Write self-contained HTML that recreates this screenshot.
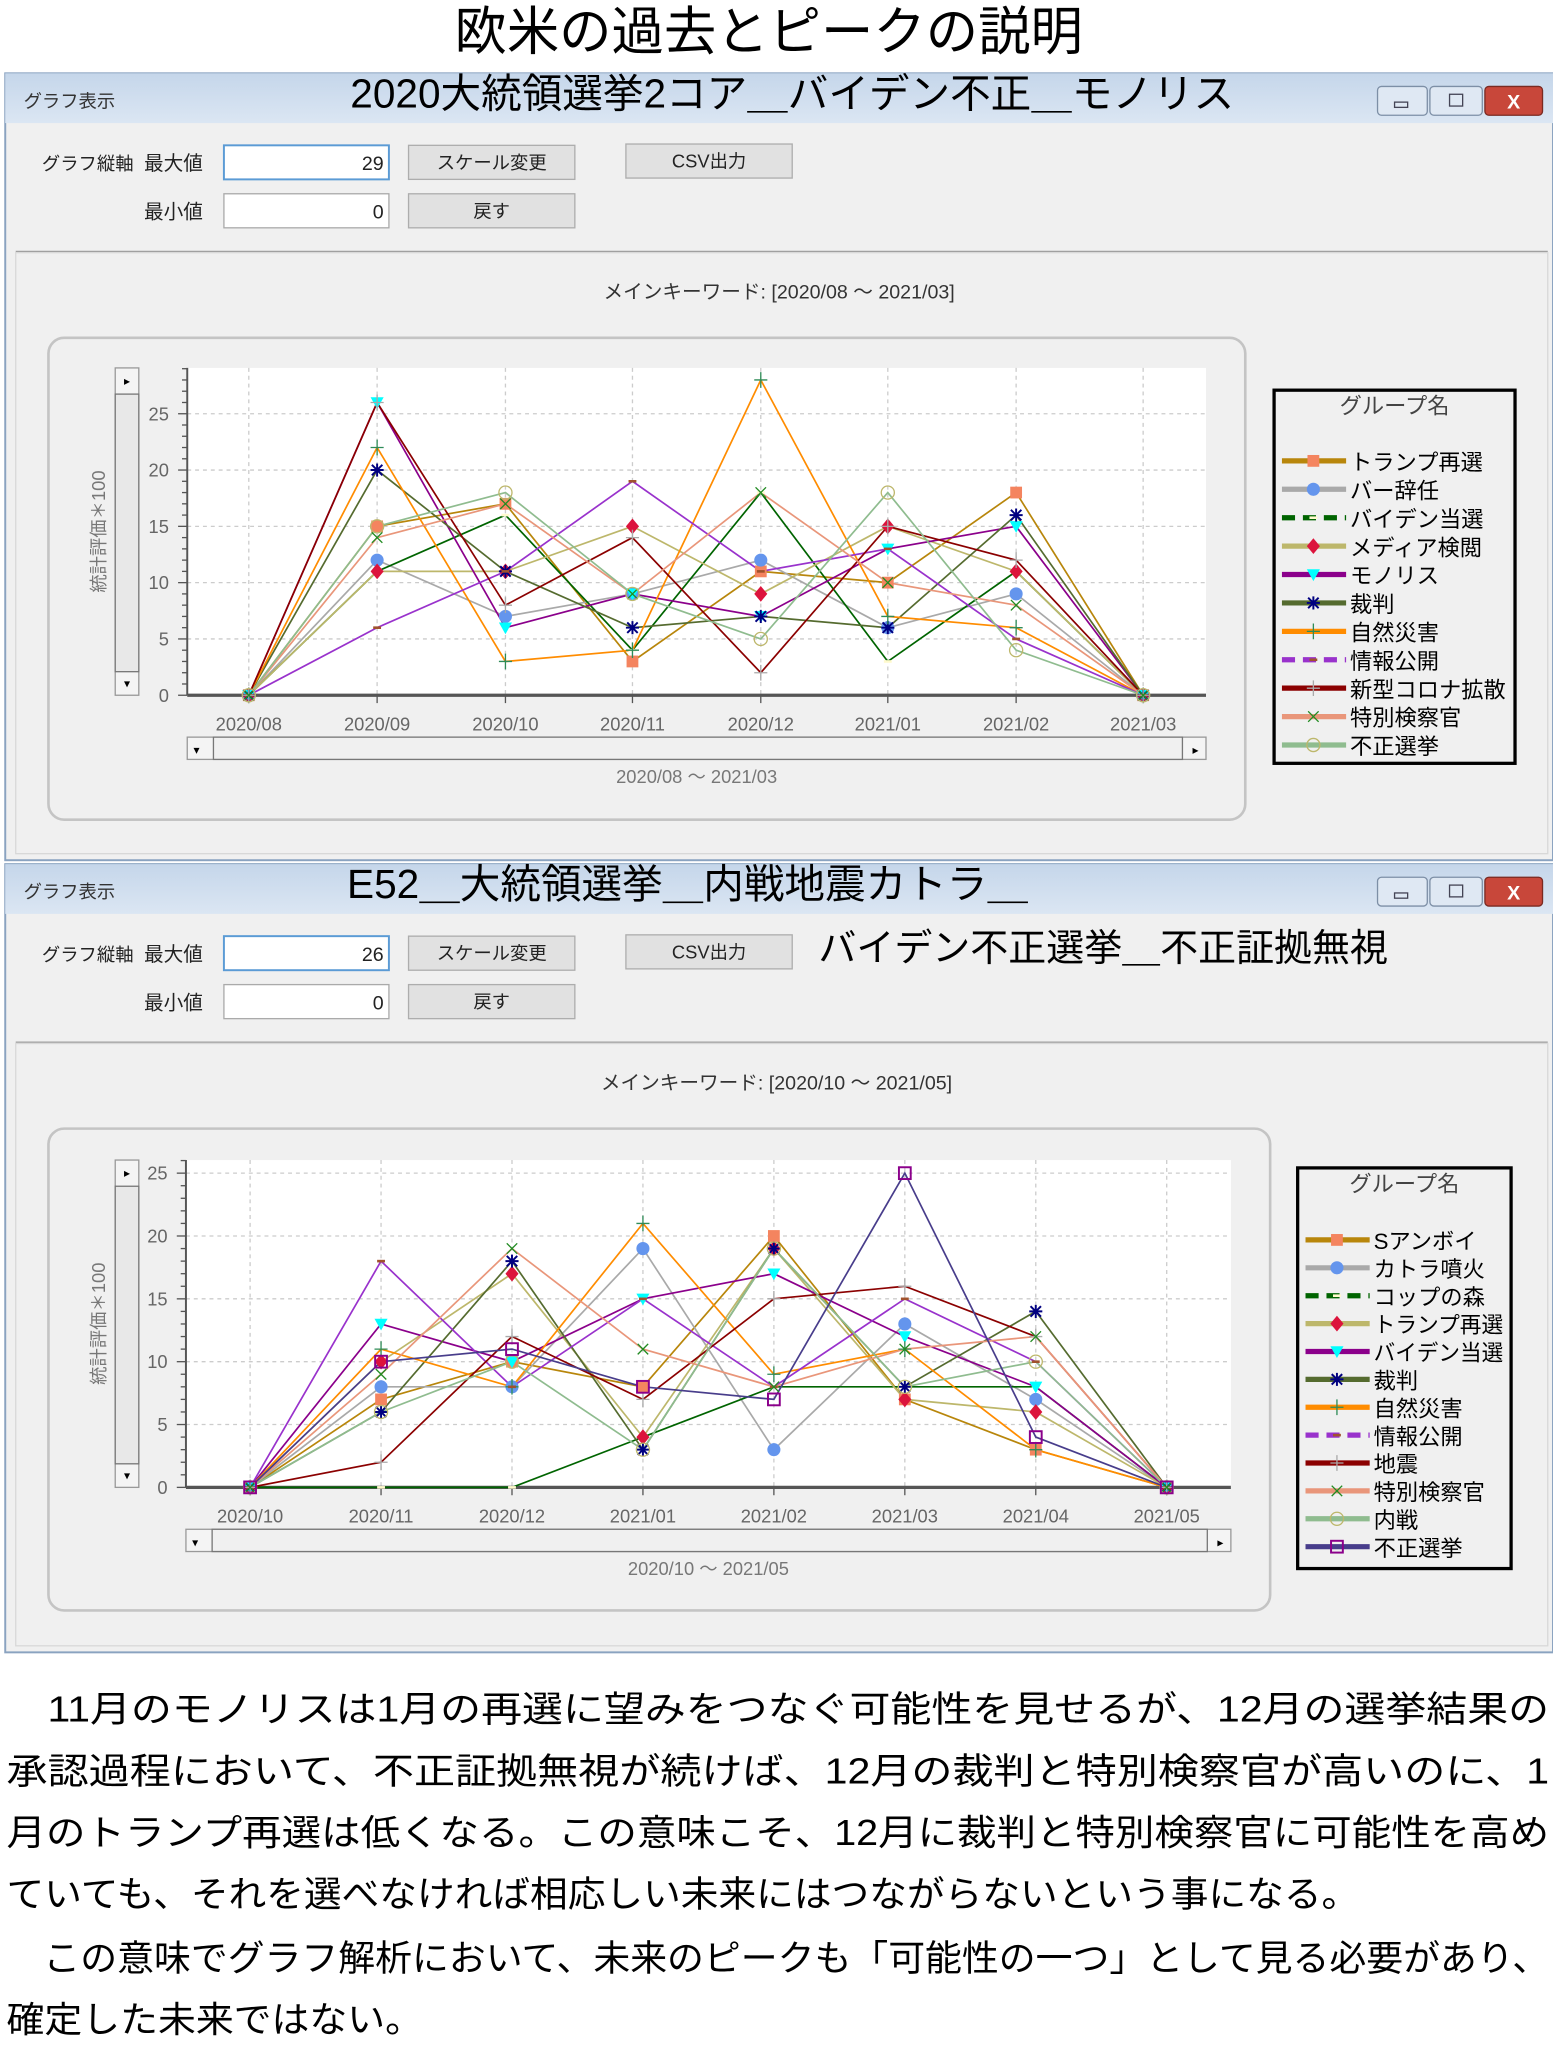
<!DOCTYPE html>
<html><head><meta charset="utf-8"><style>
html,body{margin:0;padding:0;background:#fff;}
svg{display:block;}
text{font-family:"Liberation Sans","Noto Sans CJK JP",sans-serif;}
</style></head><body>
<svg id="s" xmlns="http://www.w3.org/2000/svg" width="1553" height="2053" viewBox="0 0 1186 1568" preserveAspectRatio="none">
<rect width="1186" height="1568" fill="#fff"/>
<text x="587" y="38" font-size="40" text-anchor="middle" fill="#000">欧米の過去とピークの説明</text>
<g id="w1"></g><g id="w2"></g>
<g font-size="27.5" fill="#000">
<text x="5" y="1315" textLength="1178" lengthAdjust="spacingAndGlyphs">　11月のモノリスは1月の再選に望みをつなぐ可能性を見せるが、12月の選挙結果の</text>
<text x="5" y="1362" textLength="1178" lengthAdjust="spacingAndGlyphs">承認過程において、不正証拠無視が続けば、12月の裁判と特別検察官が高いのに、1</text>
<text x="5" y="1409" textLength="1178" lengthAdjust="spacingAndGlyphs">月のトランプ再選は低くなる。この意味こそ、12月に裁判と特別検察官に可能性を高め</text>
<text x="5" y="1456" textLength="1033" lengthAdjust="spacingAndGlyphs">ていても、それを選べなければ相応しい未来にはつながらないという事になる。</text>
<text x="5" y="1505" textLength="1178" lengthAdjust="spacingAndGlyphs">　この意味でグラフ解析において、未来のピークも「可能性の一つ」として見る必要があり、</text>
<text x="5" y="1552" textLength="318" lengthAdjust="spacingAndGlyphs">確定した未来ではない。</text>
</g>
</svg>
<script>
var NS="http://www.w3.org/2000/svg";
function el(p,t,a,txt){var e=document.createElementNS(NS,t);for(var k in a)if(a[k]!=null)e.setAttribute(k,a[k]);if(txt!=null)e.textContent=txt;p.appendChild(e);return e;}
function marker(g,type,x,y,c){
 switch(type){
 case 'sq':el(g,'rect',{x:x-4.5,y:y-4.5,width:9,height:9,fill:c});break;
 case 'ci':el(g,'circle',{cx:x,cy:y,r:5,fill:c});break;
 case 'dm':el(g,'path',{d:`M${x} ${y-6}L${x+5} ${y}L${x} ${y+6}L${x-5} ${y}Z`,fill:c});break;
 case 'tr':el(g,'path',{d:`M${x-5} ${y-4}L${x+5} ${y-4}L${x} ${y+5}Z`,fill:c});break;
 case 'st':el(g,'path',{d:`M${x-5} ${y}H${x+5}M${x} ${y-5}V${y+5}M${x-4} ${y-4}L${x+4} ${y+4}M${x+4} ${y-4}L${x-4} ${y+4}`,stroke:c,'stroke-width':1.5});break;
 case 'pl':el(g,'path',{d:`M${x-5} ${y}H${x+5}M${x} ${y-6}V${y+6}`,stroke:c,'stroke-width':1});break;
 case 'x':el(g,'path',{d:`M${x-4} ${y-4}L${x+4} ${y+4}M${x+4} ${y-4}L${x-4} ${y+4}`,stroke:c,'stroke-width':1});break;
 case 'oc':el(g,'circle',{cx:x,cy:y,r:5,fill:'none',stroke:c,'stroke-width':1});break;
 case 'os':el(g,'rect',{x:x-4.5,y:y-4.5,width:9,height:9,fill:'none',stroke:c,'stroke-width':1.5});break;
 case 'dash':el(g,'path',{d:`M${x-3} ${y}H${x+3}`,stroke:c,'stroke-width':2});break;
 }
}
function button(g,x,y,w,h,t){el(g,'rect',{x:x,y:y,width:w,height:h,fill:'#e1e1e1',stroke:'#adadad'});el(g,'text',{x:x+w/2,y:y+h/2+5,'font-size':14,'text-anchor':'middle',fill:'#222'},t);}
function win(g,o){
 var Y=o.y;
 el(g,'rect',{x:4,y:Y,width:1182,height:o.h,fill:'#f0f0f0',stroke:'#8aa3c0','stroke-width':1.5});
 var gr=el(g,'linearGradient',{id:'tb'+Y,x1:0,y1:0,x2:0,y2:1});
 el(gr,'stop',{offset:0,'stop-color':'#c5d6ea'});el(gr,'stop',{offset:1,'stop-color':'#dbe6f3'});
 el(g,'rect',{x:4,y:Y,width:1182,height:38,fill:'url(#tb'+Y+')'});
 el(g,'text',{x:18,y:Y+26,'font-size':14,fill:'#333'},'グラフ表示');
 el(g,'text',{x:o.tx,y:Y+26,'font-size':31,'text-anchor':o.ta,fill:'#000'},o.title);
 el(g,'rect',{x:1052,y:Y+10,width:38,height:22,rx:3,fill:'#dfe8f3',stroke:'#7d8fa6'});
 el(g,'rect',{x:1092,y:Y+10,width:40,height:22,rx:3,fill:'#dfe8f3',stroke:'#7d8fa6'});
 el(g,'rect',{x:1134,y:Y+10,width:44,height:22,rx:3,fill:'#c8473a',stroke:'#7a2a22'});
 el(g,'text',{x:1156,y:Y+27,'font-size':15,'text-anchor':'middle',fill:'#fff','font-weight':'bold'},'X');
 el(g,'rect',{x:1065,y:Y+22,width:10,height:4,fill:'none',stroke:'#445'});
 el(g,'rect',{x:1107,y:Y+16,width:10,height:9,fill:'none',stroke:'#445'});
 var cy=Y+55;
 el(g,'text',{x:32,y:cy+19,'font-size':14,fill:'#222'},'グラフ縦軸');
 el(g,'text',{x:110,y:cy+19,'font-size':15,fill:'#222'},'最大値');
 el(g,'rect',{x:171,y:cy,width:126,height:26,fill:'#fff',stroke:'#5b9bd5','stroke-width':1.5});
 el(g,'text',{x:293,y:cy+19,'font-size':15,'text-anchor':'end',fill:'#222'},o.max);
 button(g,312,cy,127,26,'スケール変更');
 button(g,478,cy-1,127,26,'CSV出力');
 el(g,'text',{x:110,y:cy+56,'font-size':15,fill:'#222'},'最小値');
 el(g,'rect',{x:171,y:cy+37,width:126,height:26,fill:'#fff',stroke:'#aaa'});
 el(g,'text',{x:293,y:cy+56,'font-size':15,'text-anchor':'end',fill:'#222'},'0');
 button(g,312,cy+37,127,26,'戻す');
 el(g,'line',{x1:12,y1:Y+136,x2:1182,y2:Y+136,stroke:'#a0a0a0'});
 el(g,'rect',{x:12,y:Y+137,width:1170,height:o.h-142,fill:'#f0f0f0',stroke:'#d8d8d8'});
 el(g,'text',{x:o.kx,y:Y+172,'font-size':15,'text-anchor':'middle',fill:'#333'},o.kw);
 el(g,'rect',{x:37,y:Y+202,width:o.pw,height:368,rx:12,fill:'#f0f0f0',stroke:'#c4c4c4','stroke-width':2});
 var P=o.plot;
 el(g,'rect',{x:P.x0,y:P.yt,width:P.x1-P.x0,height:P.yb-P.yt,fill:'#fff'});
 for(var v=0;v<=25;v+=5){var yy=P.yb-v*P.u;
  if(v>0)el(g,'line',{x1:P.x0,y1:yy,x2:P.x1,y2:yy,stroke:'#ccc','stroke-dasharray':'3,3'});
  el(g,'text',{x:P.x0-14,y:yy+5,'font-size':14,'text-anchor':'end',fill:'#666'},String(v));}
 for(var v=0;v<=P.max;v++){var yy=P.yb-v*P.u;el(g,'line',{x1:P.x0-(v%5?4:7),y1:yy,x2:P.x0,y2:yy,stroke:'#555'});}
 P.xs.forEach(function(x,i){el(g,'line',{x1:x,y1:P.yt,x2:x,y2:P.yb,stroke:'#ccc','stroke-dasharray':'3,3'});
  el(g,'line',{x1:x,y1:P.yb,x2:x,y2:P.yb+6,stroke:'#555'});
  el(g,'text',{x:x,y:P.yb+27,'font-size':14,'text-anchor':'middle',fill:'#666'},P.lab[i]);});
 el(g,'line',{x1:P.x0,y1:P.yt,x2:P.x0,y2:P.yb,stroke:'#555','stroke-width':1.5});
 el(g,'line',{x1:P.x0,y1:P.yb,x2:P.x1,y2:P.yb,stroke:'#555','stroke-width':2.5});
 el(g,'rect',{x:88,y:P.yt,width:18,height:P.yb-P.yt,fill:'#f4f4f4',stroke:'#999'});
 el(g,'rect',{x:88,y:P.yt+20,width:18,height:P.yb-P.yt-38,fill:'#e8e8e8',stroke:'#777'});
 el(g,'text',{x:97,y:P.yt+13,'font-size':9,'text-anchor':'middle'},'▸');
 el(g,'text',{x:97,y:P.yb-6,'font-size':9,'text-anchor':'middle'},'▾');
 el(g,'text',{x:0,y:0,'font-size':14,'text-anchor':'middle',fill:'#777',transform:`translate(${80},${(P.yt+P.yb)/2}) rotate(-90)`},'統計評価＊100');
 var sy=P.yb+32;
 el(g,'rect',{x:P.x0,y:sy,width:P.x1-P.x0,height:17,fill:'#f4f4f4',stroke:'#999'});
 el(g,'rect',{x:P.x0+20,y:sy,width:P.x1-P.x0-38,height:17,fill:'#f0f0f0',stroke:'#777'});
 el(g,'text',{x:P.x0+7,y:sy+13,'font-size':9,'text-anchor':'middle'},'▾');
 el(g,'text',{x:P.x1-8,y:sy+13,'font-size':9,'text-anchor':'middle'},'▸');
 el(g,'text',{x:(P.x0+P.x1)/2,y:sy+35,'font-size':14,'text-anchor':'middle',fill:'#777'},o.range);
 o.series.forEach(function(s){
  var pts=s.d.map(function(v,i){return P.xs[i]+','+(P.yb-v*P.u);}).join(' ');
  el(g,'polyline',{points:pts,fill:'none',stroke:s.c,'stroke-width':1.3});
 });
 o.series.forEach(function(s){s.d.forEach(function(v,i){marker(g,s.m,P.xs[i],P.yb-v*P.u,s.mc);});});
 var L=o.leg;
 el(g,'rect',{x:L.x,y:L.y,width:L.w,height:L.h,fill:'#f0f0f0',stroke:'#000','stroke-width':2.5});
 el(g,'text',{x:L.x+L.w/2,y:L.y+18,'font-size':17,'text-anchor':'middle',fill:'#444'},'グループ名');
 o.series.forEach(function(s,i){var yy=L.y0+i*L.st;
  el(g,'line',{x1:L.x+6,y1:yy,x2:L.x+55,y2:yy,stroke:s.c,'stroke-width':4,'stroke-dasharray':s.m=='dash'?'10,6':null});
  marker(g,s.m,L.x+30,yy,s.mc);
  var maxw=L.w-64, w=s.n.length*17;
  var a={x:L.x+58,y:yy+7,'font-size':17,fill:'#000'};
  if(w>maxw){a.textLength=maxw;a.lengthAdjust='spacingAndGlyphs';}
  el(g,'text',a,s.n);});
}
var s1=[
 {n:'トランプ再選',c:'#b8860b',m:'sq',mc:'#f4845f',d:[0,15,17,3,11,10,18,0]},
 {n:'バー辞任',c:'#a9a9a9',m:'ci',mc:'#6495ed',d:[0,12,7,9,12,6,9,0]},
 {n:'バイデン当選',c:'#006400',m:'dash',mc:'#fffacd',d:[0,11,16,4,18,3,11,0]},
 {n:'メディア検閲',c:'#bdb76b',m:'dm',mc:'#dc143c',d:[0,11,11,15,9,15,11,0]},
 {n:'モノリス',c:'#8b008b',m:'tr',mc:'#00ffff',d:[0,26,6,9,7,13,15,0]},
 {n:'裁判',c:'#556b2f',m:'st',mc:'#000080',d:[0,20,11,6,7,6,16,0]},
 {n:'自然災害',c:'#ff8c00',m:'pl',mc:'#2e8b57',d:[0,22,3,4,28,7,6,0]},
 {n:'情報公開',c:'#9932cc',m:'dash',mc:'#a0522d',d:[0,6,11,19,11,13,5,0]},
 {n:'新型コロナ拡散',c:'#8b0000',m:'pl',mc:'#a9a9a9',d:[0,26,8,14,2,15,12,0]},
 {n:'特別検察官',c:'#e9967a',m:'x',mc:'#228b22',d:[0,14,17,9,18,10,8,0]},
 {n:'不正選挙',c:'#8fbc8f',m:'oc',mc:'#bdb76b',d:[0,15,18,9,5,18,4,0]}];
var s2=[
 {n:'Sアンボイ',c:'#b8860b',m:'sq',mc:'#f4845f',d:[0,7,10,8,20,7,3,0]},
 {n:'カトラ噴火',c:'#a9a9a9',m:'ci',mc:'#6495ed',d:[0,8,8,19,3,13,7,0]},
 {n:'コップの森',c:'#006400',m:'dash',mc:'#fffacd',d:[0,0,0,4,8,8,8,0]},
 {n:'トランプ再選',c:'#bdb76b',m:'dm',mc:'#dc143c',d:[0,10,17,4,19,7,6,0]},
 {n:'バイデン当選',c:'#8b008b',m:'tr',mc:'#00ffff',d:[0,13,10,15,17,12,8,0]},
 {n:'裁判',c:'#556b2f',m:'st',mc:'#000080',d:[0,6,18,3,19,8,14,0]},
 {n:'自然災害',c:'#ff8c00',m:'pl',mc:'#2e8b57',d:[0,11,8,21,9,11,3,0]},
 {n:'情報公開',c:'#9932cc',m:'dash',mc:'#a0522d',d:[0,18,8,15,8,15,10,0]},
 {n:'地震',c:'#8b0000',m:'pl',mc:'#a9a9a9',d:[0,2,12,7,15,16,12,0]},
 {n:'特別検察官',c:'#e9967a',m:'x',mc:'#228b22',d:[0,9,19,11,8,11,12,0]},
 {n:'内戦',c:'#8fbc8f',m:'oc',mc:'#bdb76b',d:[0,6,10,3,19,8,10,0]},
 {n:'不正選挙',c:'#483d8b',m:'os',mc:'#8b008b',d:[0,10,11,8,7,25,4,0]}];
var l1=['2020/08','2020/09','2020/10','2020/11','2020/12','2021/01','2021/02','2021/03'];
var l2=['2020/10','2020/11','2020/12','2021/01','2021/02','2021/03','2021/04','2021/05'];
win(document.getElementById('w1'),{y:56,h:601,tx:605,ta:'middle',title:'2020大統領選挙2コア＿バイデン不正＿モノリス',max:'29',kx:595,kw:'メインキーワード: [2020/08 〜 2021/03]',pw:914,
 plot:{x0:143,x1:921,yt:281,yb:531,u:8.6,max:29,xs:[190,288,386,483,581,678,776,873],lab:l1},range:'2020/08 〜 2021/03',
 leg:{x:973,y:298,w:184,h:285,y0:352,st:21.7},series:s1});
win(document.getElementById('w2'),{y:660,h:602,tx:265,ta:'start',title:'E52＿大統領選挙＿内戦地震カトラ＿',max:'26',kx:593,kw:'メインキーワード: [2020/10 〜 2021/05]',pw:933,
 plot:{x0:142,x1:940,yt:886,yb:1136,u:9.6,max:26,xs:[191,291,391,491,591,691,791,891],lab:l2},range:'2020/10 〜 2021/05',
 leg:{x:991,y:892,w:163,h:306,y0:947,st:21.3},series:s2});
var w2=document.getElementById('w2');
el(w2,'text',{x:625,y:734,'font-size':29,fill:'#000'},'バイデン不正選挙＿不正証拠無視');
</script>
</body></html>
